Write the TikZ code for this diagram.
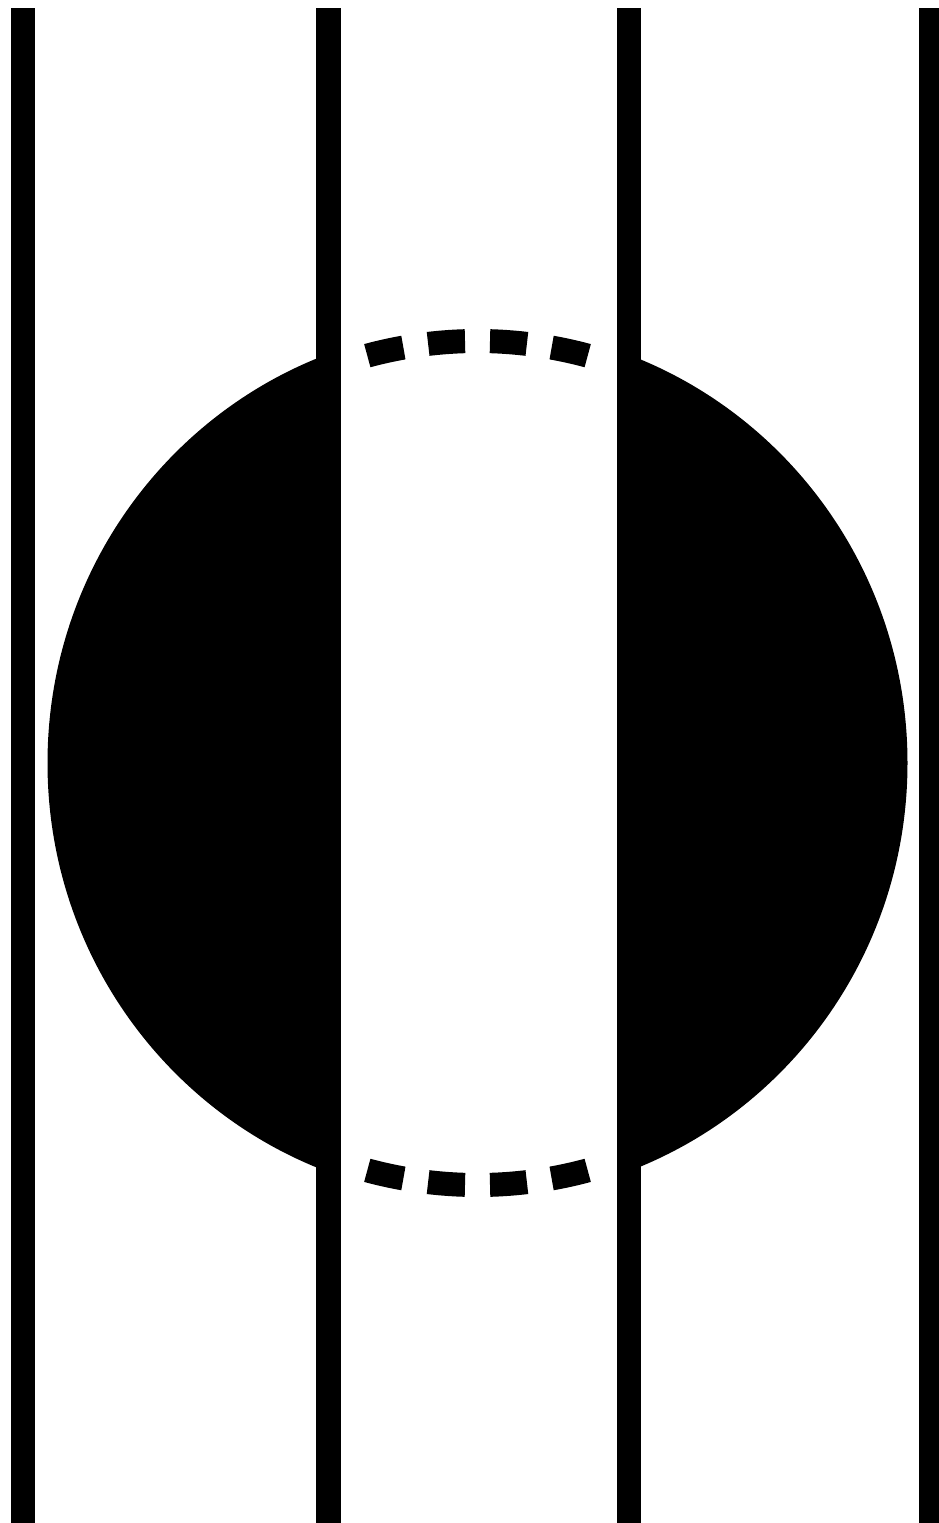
\documentclass[tikz,border=0pt]{standalone}
\begin{document}
\begin{tikzpicture}[x=1pt,y=-1pt,
  rail/.style={line width=24.5pt},
  dashseg/.style={line width=24pt, dash pattern=on 37pt off 25pt, dash phase=49.5pt}]
\useasboundingbox (0,0) rectangle (938,1523);
\fill[white] (0,0) rectangle (938,1523);
% filled disc
\fill[black] (477.5,763) ellipse [x radius=430, y radius=436];
% white band between the two inner lines
\fill[white] (328.5,300) rectangle (629,1230);
% dashed arcs (top and bottom)
\draw[dashseg] (477.5,763) ++(90:422) arc[start angle=90,end angle=108.3,radius=422];
\draw[dashseg] (477.5,763) ++(90:422) arc[start angle=90,end angle=71.7,radius=422];
\draw[dashseg] (477.5,763) ++(270:422) arc[start angle=270,end angle=251.7,radius=422];
\draw[dashseg] (477.5,763) ++(270:422) arc[start angle=270,end angle=288.3,radius=422];
% vertical lines
\coordinate (l1t) at (23,8);    \coordinate (l1b) at (23,1540);
\coordinate (l2t) at (328.5,8); \coordinate (l2b) at (328.5,1540);
\coordinate (l3t) at (629,8);   \coordinate (l3b) at (629,1540);
\coordinate (l4t) at (931,8);   \coordinate (l4b) at (931,1540);
\draw[rail] (l1t) -- (l1b);
\draw[rail] (l2t) -- (l2b);
\draw[rail] (l3t) -- (l3b);
\draw[rail] (l4t) -- (l4b);
\end{tikzpicture}
\end{document}
